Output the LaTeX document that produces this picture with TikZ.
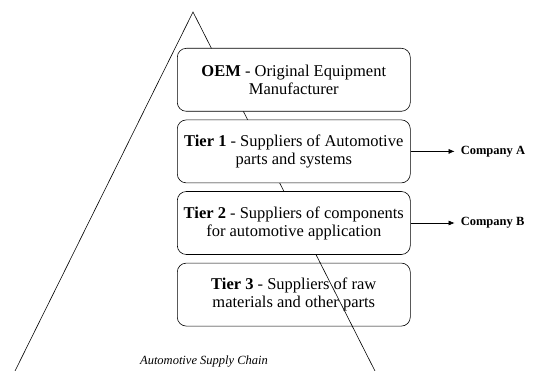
\documentclass[tikz,border=0pt]{standalone}
\usepackage{fontspec}
\setmainfont{Liberation Serif}
\usetikzlibrary{positioning,arrows.meta}

\def\boxw{233pt}
\def\boxh{63pt}

\tikzset{
  tier/.style={draw, fill=white, rounded corners=9pt, minimum width=\boxw,
    minimum height=\boxh, align=center, font=\fontsize{16.5}{18}\selectfont,
    line width=0.6pt, inner sep=2pt},
  company/.style={font=\fontsize{12.5}{13}\selectfont\bfseries, anchor=west, inner sep=1pt},
  link/.style={-{Latex[length=6pt,width=5pt]}, line width=0.6pt}
}

\begin{document}
\begin{tikzpicture}[x=1pt,y=-1pt]
  \useasboundingbox (0,0) rectangle (533,371);

  % pyramid behind the tiers
  \coordinate (apex) at (193,12);
  \coordinate (baseL) at (15,371);
  \coordinate (baseR) at (375,371);
  \draw[line width=0.6pt] (baseL) -- (apex) -- (baseR);

  % tiers
  \node[tier, anchor=north west] (oem) at (177,48)
    {\textbf{OEM} - Original Equipment\\Manufacturer};
  \node[tier, below=8pt of oem] (tier1)
    {\textbf{Tier 1} - Suppliers of Automotive\\parts and systems};
  \node[tier, below=8pt of tier1] (tier2)
    {\textbf{Tier 2} - Suppliers of components\\for automotive application};
  \node[tier, below=8pt of tier2] (tier3)
    {\textbf{Tier 3} - Suppliers of raw\\materials and other parts};

  % the slope runs over the last tier
  \begin{scope}
    \clip (tier3.north west) rectangle (tier3.south east);
    \draw[line width=0.6pt] (apex) -- (baseR);
  \end{scope}

  % companies
  \node[company, right=49pt of tier1.east] (compA) {Company A};
  \node[company, right=49pt of tier2.east] (compB) {Company B};
  \draw[link] (tier1.east) -- ([xshift=-5pt]compA.west);
  \draw[link] (tier2.east) -- ([xshift=-5pt]compB.west);

  \node[font=\fontsize{12.5}{13}\selectfont\itshape] (chain) at (204,362) {Automotive Supply Chain};
\end{tikzpicture}
\end{document}
